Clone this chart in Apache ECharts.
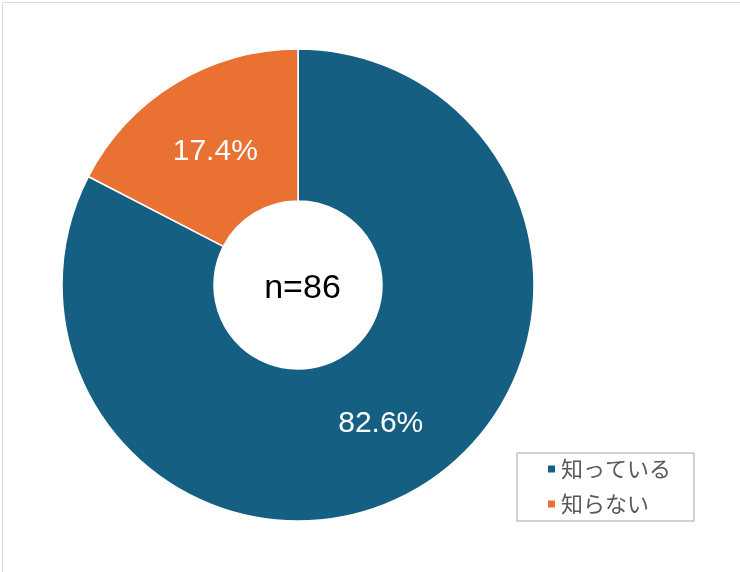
<!DOCTYPE html>
<html>
<head>
<meta charset="utf-8">
<script src="https://cdn.jsdelivr.net/npm/echarts@6/dist/echarts.min.js"></script>
<style>
html,body{margin:0;padding:0;background:#fff;}
#chart{width:740px;height:572px;}
</style>
</head>
<body>
<div id="chart"></div>
<script>
const categories = ['知っている', '知らない'];
const values = [82.6, 17.4];
const colors = ['#156082', '#E97132'];
const sampleLabel = 'n=86';

const labelOffsets = [[-2, -1], [2, 6]];

const chart = echarts.init(document.getElementById('chart'), null, {renderer: 'canvas'});
chart.setOption({
  animation: false,
  backgroundColor: '#ffffff',
  color: colors,
  legend: {
    orient: 'vertical',
    left: 517,
    top: 453,
    data: categories,
    icon: 'rect',
    itemWidth: 9,
    itemHeight: 9,
    itemGap: 13,
    padding: [5, 23, 6, 29],
    borderColor: '#a6a6a6',
    borderWidth: 1,
    textStyle: {
      fontSize: 22,
      color: '#595959',
      fontFamily: '"Noto Sans CJK JP", sans-serif'
    }
  },
  graphic: [
    {
      type: 'rect',
      left: 0, top: 0,
      shape: {x: 0.5, y: 0.5, width: 739, height: 571},
      style: {fill: 'none', stroke: '#d9d9d9', lineWidth: 1},
      silent: true
    },
    {
      type: 'text',
      x: 302.5, y: 288.5,
      style: {
        text: sampleLabel,
        fontSize: 34,
        fill: '#000000',
        fontFamily: '"Liberation Sans", Arial, sans-serif',
        textAlign: 'center',
        textVerticalAlign: 'middle'
      },
      z: 10
    }
  ],
  series: [{
    type: 'pie',
    center: [298, 285],
    radius: [84, 236],
    startAngle: 90,
    clockwise: true,
    avoidLabelOverlap: false,
    itemStyle: {borderColor: '#ffffff', borderWidth: 1.5},
    label: {
      show: true,
      position: 'inside',
      formatter: function (p) { return p.value.toFixed(1) + '%'; },
      color: '#ffffff',
      fontSize: 30,
      fontFamily: '"Liberation Sans", Arial, sans-serif'
    },
    labelLine: {show: false},
    emphasis: {disabled: true},
    data: categories.map((c, i) => ({
      name: c,
      value: values[i],
      label: {offset: labelOffsets[i]}
    }))
  }]
});
</script>
</body>
</html>
